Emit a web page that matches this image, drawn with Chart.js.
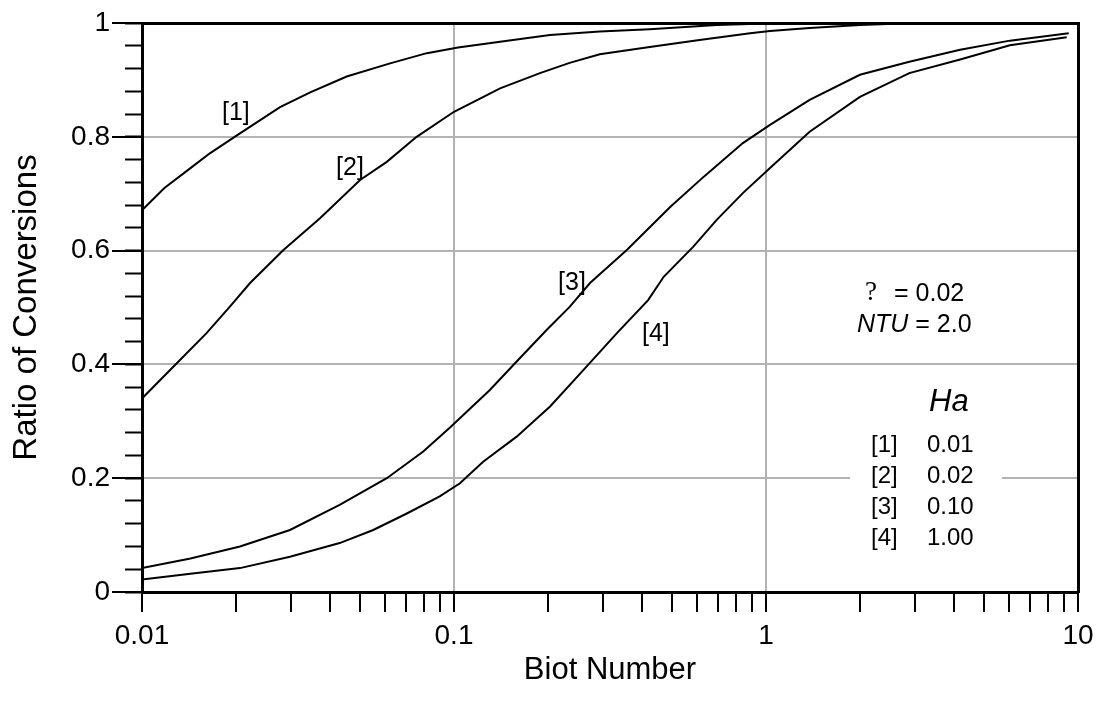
<!DOCTYPE html>
<html>
<head>
<meta charset="utf-8">
<script src="https://cdn.jsdelivr.net/npm/chart.js@4/dist/chart.umd.min.js"></script>
<style>
  html, body { margin: 0; padding: 0; background: #fff; }
  #wrap { width: 1101px; height: 709px; position: relative; }
</style>
</head>
<body>
<div id="wrap"><canvas id="grafic"></canvas></div>
<script>
/* Ratio of conversions vs Biot number, four Ha values */

// curve [1]  Ha = 0.01
const biot1  = [0.01, 0.0118, 0.0143, 0.0165, 0.0206, 0.0277, 0.0346, 0.0453, 0.0624, 0.0818, 0.103, 0.1405, 0.203, 0.293, 0.424, 0.695, 1.0, 2.0, 9.3];
const ratio1 = [0.671, 0.710, 0.745, 0.771, 0.806, 0.852, 0.878, 0.906, 0.929, 0.947, 0.957, 0.967, 0.979, 0.985, 0.989, 0.9965, 0.999, 1.0, 1.0];

// curve [2]  Ha = 0.02
const biot2  = [0.01, 0.0126, 0.0161, 0.0191, 0.0222, 0.0284, 0.0372, 0.05, 0.0609, 0.0759, 0.1, 0.1405, 0.1886, 0.2348, 0.2932, 0.424, 0.612, 0.889, 1.03, 1.38, 2.0, 3.0, 9.3];
const ratio2 = [0.340, 0.396, 0.455, 0.501, 0.543, 0.601, 0.657, 0.724, 0.756, 0.800, 0.844, 0.885, 0.912, 0.930, 0.945, 0.958, 0.970, 0.982, 0.986, 0.991, 0.9965, 1.0, 1.0];

// curve [3]  Ha = 0.10
const biot3  = [0.01, 0.0143, 0.0206, 0.0298, 0.043, 0.0609, 0.0797, 0.0971, 0.1303, 0.1588, 0.1984, 0.2348, 0.2728, 0.358, 0.494, 0.632, 0.843, 1.03, 1.38, 2.0, 2.88, 4.19, 6.05, 9.34];
const ratio3 = [0.042, 0.059, 0.080, 0.109, 0.153, 0.200, 0.247, 0.289, 0.355, 0.405, 0.461, 0.501, 0.543, 0.601, 0.677, 0.730, 0.789, 0.821, 0.865, 0.909, 0.932, 0.953, 0.969, 0.982];

// curve [4]  Ha = 1.00
const biot4  = [0.01, 0.0143, 0.0206, 0.0298, 0.043, 0.0551, 0.0706, 0.09, 0.1045, 0.124, 0.1588, 0.2032, 0.2597, 0.3328, 0.419, 0.470, 0.585, 0.695, 0.843, 1.03, 1.38, 2.0, 2.88, 4.19, 6.05, 9.2];
const ratio4 = [0.022, 0.032, 0.042, 0.062, 0.086, 0.109, 0.138, 0.168, 0.191, 0.229, 0.273, 0.326, 0.390, 0.455, 0.513, 0.554, 0.607, 0.654, 0.701, 0.745, 0.809, 0.870, 0.912, 0.936, 0.961, 0.975];

const curveLabels = ['[1]', '[2]', '[3]', '[4]'];
const haValues    = ['0.01', '0.02', '0.10', '1.00'];
const xTickLabels = ['0.01', '0.1', '1', '10'];
const yTickLabels = ['0', '0.2', '0.4', '0.6', '0.8', '1'];

// where the [n] tags sit (data coords)
const tagPos = [
  { x: 0.020,  y: 0.842 },
  { x: 0.0464, y: 0.745 },
  { x: 0.2388, y: 0.543 },
  { x: 0.4437, y: 0.453 },
];

const FONT = "'Liberation Sans', Arial, sans-serif";
const GRIS = '#b3b3b3';

const esDecada = v => {
  const e = Math.log10(v);
  return Math.abs(e - Math.round(e)) < 1e-9;
};

// log ticks 1..9 per decade
const xTickValues = [];
[0.01, 0.1, 1].forEach(d => {
  for (let k = 1; k <= 9; k++) xTickValues.push(+(k * d).toPrecision(3));
});
xTickValues.push(10);

const serie = (xs, ys) => xs.map((x, i) => ({ x: x, y: ys[i] }));

const pluginText = {
  id: 'textos',
  beforeDatasetsDraw(chart) {
    // white patch behind the Ha table
    const { ctx } = chart;
    ctx.save();
    ctx.fillStyle = '#fff';
    ctx.fillRect(850, 380, 152, 180);
    ctx.restore();
  },
  afterDraw(chart) {
    const { ctx, scales: { x, y } } = chart;
    ctx.save();
    ctx.fillStyle = '#000';
    ctx.textBaseline = 'middle';

    ctx.font = '25px ' + FONT;
    ctx.textAlign = 'center';
    tagPos.forEach((p, i) => {
      ctx.fillText(curveLabels[i], x.getPixelForValue(p.x), y.getPixelForValue(p.y));
    });

    // parameters
    ctx.textAlign = 'left';
    ctx.font = "27px 'Liberation Serif', serif";
    ctx.fillText('?', 865, 293);
    ctx.font = '25px ' + FONT;
    ctx.fillText('= 0.02', 894, 294);

    ctx.font = 'italic 25px ' + FONT;
    ctx.fillText('NTU', 857, 325);
    const w = ctx.measureText('NTU').width;
    ctx.font = '25px ' + FONT;
    ctx.fillText(' = 2.0', 857 + w, 325);

    // Ha table
    ctx.font = 'italic 31px ' + FONT;
    ctx.textBaseline = 'alphabetic';
    ctx.fillText('Ha', 929, 411);
    ctx.textBaseline = 'middle';
    ctx.font = '24px ' + FONT;
    haValues.forEach((v, i) => {
      const yy = 445 + i * 31;
      ctx.fillText(curveLabels[i], 871, yy);
      ctx.fillText(v, 927, yy);
    });
    ctx.restore();
  }
};

const ctx = document.getElementById('grafic').getContext('2d');
new Chart(ctx, {
  type: 'line',
  data: {
    datasets: [
      { label: 'Ha 0.01', data: serie(biot1, ratio1) },
      { label: 'Ha 0.02', data: serie(biot2, ratio2) },
      { label: 'Ha 0.10', data: serie(biot3, ratio3) },
      { label: 'Ha 1.00', data: serie(biot4, ratio4) },
    ].map(d => Object.assign(d, {
      borderColor: '#000', borderWidth: 2, pointRadius: 0, tension: 0, fill: false
    }))
  },
  options: {
    animation: false,
    responsive: true,
    maintainAspectRatio: false,
    devicePixelRatio: 1,
    layout: { padding: { top: 23, right: 23, left: 0, bottom: 0 } },
    plugins: { legend: { display: false }, tooltip: { enabled: false } },
    scales: {
      x: {
        type: 'logarithmic',
        position: 'bottom',
        min: 0.01,
        max: 10,
        afterBuildTicks: s => { s.ticks = xTickValues.map(v => ({ value: v, major: esDecada(v) })); },
        afterFit: s => { s.height = 117; },
        ticks: {
          autoSkip: false,
          maxRotation: 0,
          color: '#000',
          padding: 7,
          font: { size: 28, family: FONT },
          callback: v => esDecada(v) ? xTickLabels[Math.round(Math.log10(v)) + 2] : '',
        },
        grid: {
          color: c => (c.tick && esDecada(c.tick.value)) ? GRIS : 'rgba(0,0,0,0)',
          lineWidth: 2,
          tickLength: 20,
          tickColor: '#000',
          tickWidth: 2,
        },
        border: { color: '#000', width: 3 },
        title: {
          display: true,
          text: 'Biot Number',
          color: '#000',
          font: { size: 31, family: FONT },
          padding: { top: 0, bottom: 20 },
        },
      },
      xTop: {
        type: 'logarithmic',
        position: 'top',
        min: 0.01,
        max: 10,
        afterFit: s => { s.height = 0; },
        ticks: { display: false },
        grid: { display: false },
        border: { color: '#000', width: 3 },
      },
      y: {
        type: 'linear',
        position: 'left',
        weight: 1,
        min: 0,
        max: 1,
        afterFit: s => { s.width = 142; },
        ticks: {
          stepSize: 0.2,
          color: '#000',
          padding: 2,
          font: { size: 28, family: FONT },
          callback: v => yTickLabels[Math.round(v / 0.2)],
        },
        grid: {
          color: GRIS,
          lineWidth: 2,
          tickLength: 30,
          tickColor: '#000',
          tickWidth: 2,
        },
        border: { color: '#000', width: 3 },
        title: {
          display: true,
          text: 'Ratio of Conversions',
          color: '#000',
          font: { size: 33, family: FONT },
          padding: { top: 7, bottom: 0 },
        },
      },
      yMinor: {
        type: 'linear',
        position: 'left',
        weight: 0,
        min: 0,
        max: 1,
        afterFit: s => { s.width = 0; },
        ticks: { stepSize: 0.04, display: false },
        grid: {
          drawOnChartArea: false,
          tickLength: 17,
          tickColor: '#000',
          tickWidth: 2,
        },
        border: { display: false },
      },
      yRight: {
        type: 'linear',
        position: 'right',
        min: 0,
        max: 1,
        afterFit: s => { s.width = 0; },
        ticks: { display: false },
        grid: { display: false },
        border: { color: '#000', width: 3 },
      },
    }
  },
  plugins: [pluginText]
});
</script>
</body>
</html>
